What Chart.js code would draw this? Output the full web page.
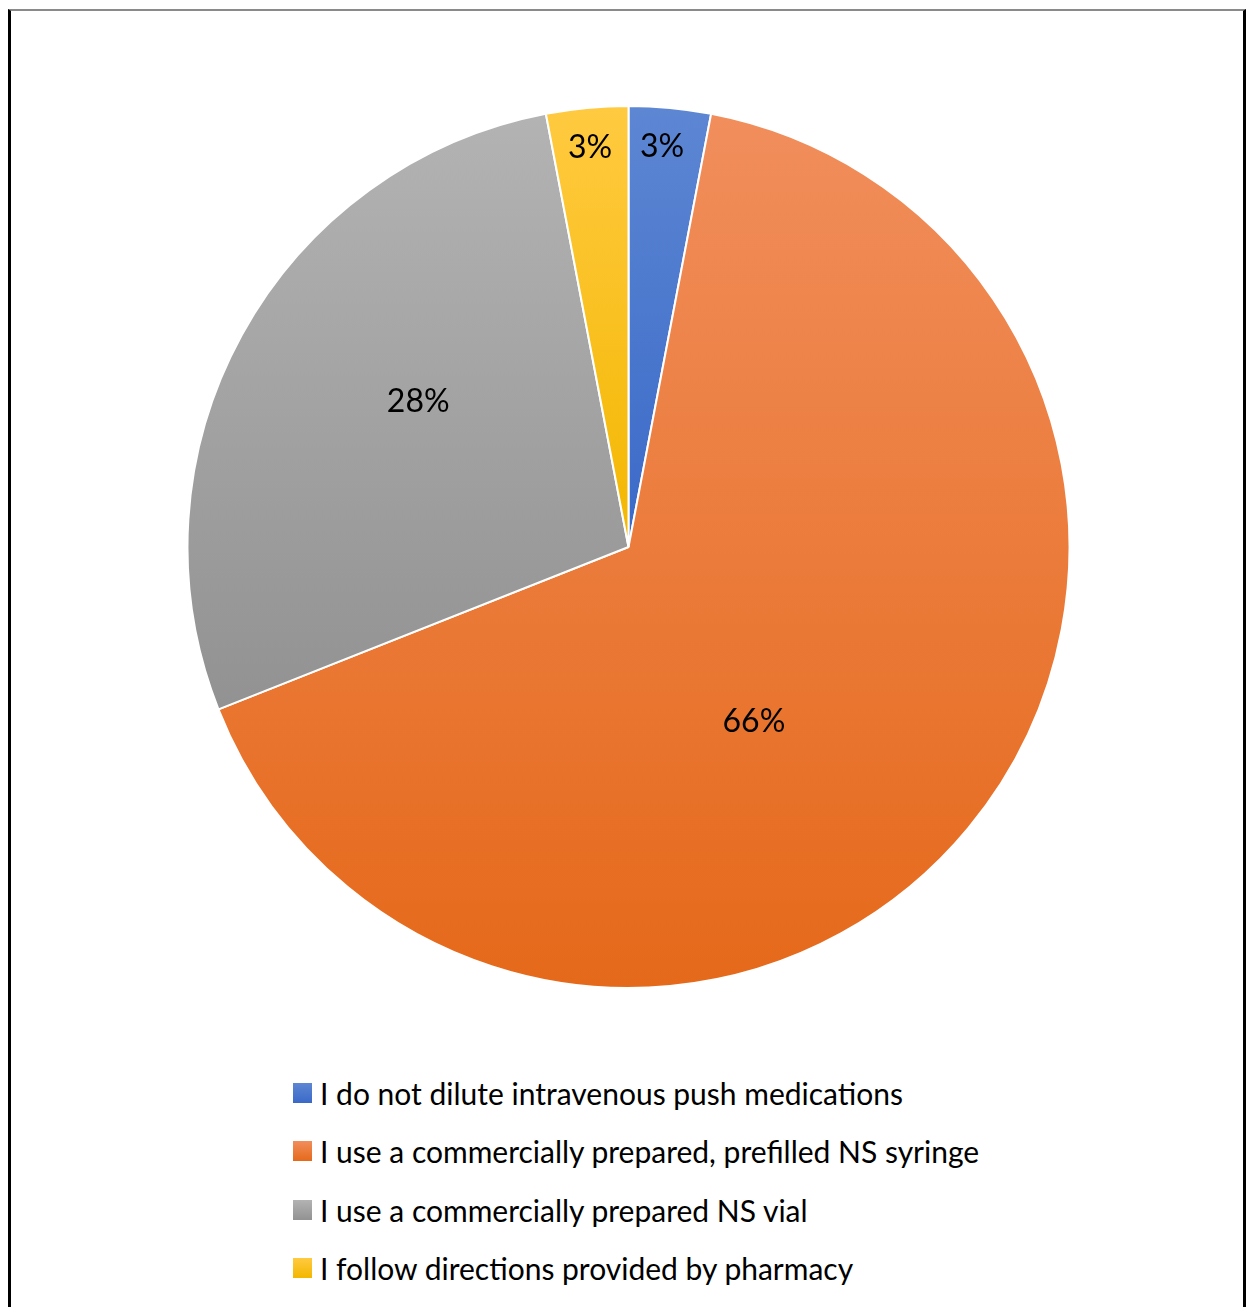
<!DOCTYPE html>
<html>
<head>
<meta charset="utf-8">
<title>NS dilution practice</title>
<script src="https://cdn.jsdelivr.net/npm/chart.js@4.4.1/dist/chart.umd.min.js"></script>
<style>
    html, body {
        margin: 0;
        padding: 0;
        background: #fff;
        width: 1246px;
        height: 1307px;
        overflow: hidden;
        font-family: Lato, "Noto Sans", sans-serif;
    }
    .frame {
        position: absolute;
        left: 8px;
        top: 9px;
        width: 1232px;
        height: 1320px;
        border-top: 2px solid #8a8a8a;
        border-left: 3px solid #000;
        border-right: 3px solid #000;
    }
    .pie-box {
        position: absolute;
        left: 186px;
        top: 105px;
        width: 885px;
        height: 884px;
    }
    .legend {
        position: absolute;
        left: 293px;
        top: 1064px;
        margin: 0;
        padding: 0;
        list-style: none;
    }
    .legend li {
        display: flex;
        align-items: center;
        height: 58.3px;
        font-size: 30px;
        color: #000;
        white-space: nowrap;
    }
    .legend .swatch {
        width: 19px;
        height: 20px;
        margin-right: 8px;
        flex: none;
    }
</style>
</head>
<body>
<div class="frame"></div>
<div class="pie-box"><canvas id="pie"></canvas></div>
<ul class="legend" id="legend"></ul>

<script>
const categories = [
    'I do not dilute intravenous push medications',
    'I use a commercially prepared, prefilled NS syringe',
    'I use a commercially prepared NS vial',
    'I follow directions provided by pharmacy'
];
const percentages = [3, 66, 28, 3];

// light (top) / dark (bottom) stops of each slice's vertical gradient
const topColors = ['#5d87d3', '#f18e5c', '#b3b3b3', '#ffca40'];
const bottomColors = ['#3a69c8', '#e5691a', '#929292', '#f3b700'];

// where each percent label sits: fraction of the radius, and a turn (deg) off the slice middle
const labelRadius = [0.91, 0.488, 0.58, 0.91];
const labelTurn = [-0.6, 14.75, 5.9, -0.1];

// vertical extent of an arc, so each slice gets its own gradient
function arcSpan(arc) {
    const ys = [arc.y];
    const a0 = arc.startAngle, a1 = arc.endAngle;
    ys.push(arc.y + Math.sin(a0) * arc.outerRadius);
    ys.push(arc.y + Math.sin(a1) * arc.outerRadius);
    for (const k of [-0.5, 0.5, 1.5]) {
        const a = k * Math.PI;
        if (a > a0 && a < a1) ys.push(arc.y + Math.sin(a) * arc.outerRadius);
    }
    return [Math.min(...ys), Math.max(...ys)];
}

function sliceFill(context) {
    const i = context.dataIndex;
    const meta = context.chart.getDatasetMeta(0);
    const arc = meta.data[i];
    if (!arc || !arc.outerRadius) return topColors[i];
    const [y0, y1] = arcSpan(arc);
    const g = context.chart.ctx.createLinearGradient(0, y0, 0, y1);
    g.addColorStop(0, topColors[i]);
    g.addColorStop(1, bottomColors[i]);
    return g;
}

const percentLabels = {
    id: 'percentLabels',
    afterDatasetsDraw(chart) {
        const { ctx } = chart;
        const meta = chart.getDatasetMeta(0);
        ctx.save();
        ctx.font = '32px Lato, "Noto Sans", sans-serif';
        ctx.fillStyle = '#000';
        ctx.textAlign = 'center';
        ctx.textBaseline = 'middle';
        meta.data.forEach((arc, i) => {
            const mid = (arc.startAngle + arc.endAngle) / 2 + labelTurn[i] * Math.PI / 180;
            const r = arc.outerRadius * labelRadius[i];
            ctx.fillText(percentages[i] + '%', arc.x + Math.cos(mid) * r, arc.y + Math.sin(mid) * r);
        });
        ctx.restore();
    }
};

const chart = new Chart(document.getElementById('pie'), {
    type: 'pie',
    data: {
        labels: categories,
        datasets: [{
            data: percentages,
            backgroundColor: sliceFill,
            borderColor: '#fff',
            borderWidth: 2
        }]
    },
    options: {
        responsive: true,
        maintainAspectRatio: false,
        animation: false,
        events: [],
        plugins: {
            legend: { display: false },
            tooltip: { enabled: false }
        }
    },
    plugins: [percentLabels]
});
// second pass so the gradients see the laid-out arcs
chart.update();

const legend = document.getElementById('legend');
legend.innerHTML = categories.map((name, i) => `
    <li>
        <span class="swatch" style="background: linear-gradient(${topColors[i]}, ${bottomColors[i]});"></span>
        <span>${name}</span>
    </li>
`).join('');
</script>
</body>
</html>
